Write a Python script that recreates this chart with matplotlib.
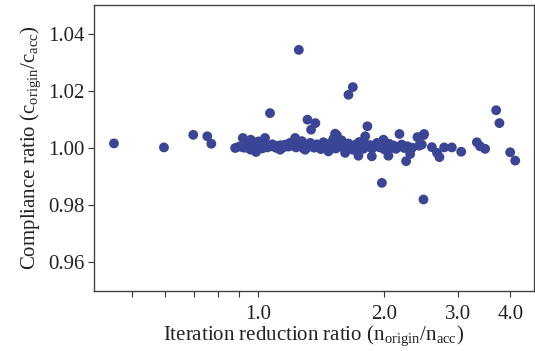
import numpy as np
import matplotlib
matplotlib.use("Agg")
import matplotlib.pyplot as plt
from matplotlib.ticker import FixedLocator, NullFormatter, FixedFormatter

plt.rcParams['font.family'] = ['Liberation Serif', 'DejaVu Serif']
plt.rcParams['mathtext.fontset'] = 'custom'
plt.rcParams['mathtext.rm'] = 'Liberation Serif'

# iteration reduction ratio (n_origin / n_acc)
ratio_iter = [
    0.452, 0.595, 0.699, 0.755, 0.772, 1.249, 1.066, 1.31, 1.368, 1.336,
    1.641, 1.681, 1.821, 1.972, 2.479, 3.697, 3.764, 3.993, 4.105, 3.325,
    3.384, 3.479, 3.05, 2.897, 2.777, 2.706, 2.67, 2.596, 2.479, 2.456,
    2.42, 2.398, 2.488, 2.304, 2.253, 2.172, 1.799, 1.539, 1.525, 1.989,
    1.733, 1.866, 2.044, 1.47, 1.611, 1.293, 1.127, 0.88, 0.918, 0.918,
    0.959, 0.959, 0.987, 1.0, 1.037, 1.224,
    0.90, 0.93, 0.94, 0.95, 0.97, 0.98, 0.99, 1.01, 1.02, 1.04,
    1.05, 1.07, 1.08, 1.10, 1.11, 1.13, 1.15, 1.16, 1.18, 1.19,
    1.21, 1.23, 1.24, 1.26, 1.27, 1.28, 1.30, 1.32, 1.33, 1.35,
    1.36, 1.38, 1.40, 1.41, 1.43, 1.44, 1.46, 1.48, 1.50, 1.51,
    1.53, 1.55, 1.57, 1.58, 1.60, 1.62, 1.64, 1.66, 1.68, 1.70,
    1.72, 1.74, 1.76, 1.78, 1.80, 1.83, 1.85, 1.87, 1.90, 1.92,
    1.95, 1.97, 2.00, 2.02, 2.05, 2.08, 2.10, 2.13, 2.16, 2.20,
    2.23, 2.27, 2.33,
]
# compliance ratio (c_origin / c_acc)
ratio_comp = [
    1.0016, 1.0002, 1.0046, 1.0041, 1.0015, 1.0343, 1.0122, 1.0099, 1.0087, 1.0064,
    1.0186, 1.0213, 1.0076, 0.9878, 0.9820, 1.0132, 1.0087, 0.9985, 0.9956, 1.0020,
    1.0006, 0.9997, 0.9987, 1.0002, 1.0002, 0.9968, 0.9983, 1.0003, 1.0045, 1.0012,
    1.0008, 1.0038, 1.0049, 0.9979, 0.9954, 1.0049, 1.0041, 1.0045, 1.0050, 1.0029,
    0.9973, 0.9971, 0.9973, 0.9988, 0.9983, 0.9994, 0.9994, 1.0000, 1.0035, 1.0002,
    1.0029, 0.9994, 0.9986, 1.0023, 1.0035, 1.0035,
    1.0005, 1.0001, 1.0010, 1.0003, 1.0008, 1.0000, 1.0012, 1.0004, 0.9998, 1.0009,
    1.0002, 1.0006, 1.0013, 1.0001, 1.0007, 1.0010, 1.0003, 1.0012, 1.0005, 1.0018,
    1.0008, 1.0002, 1.0014, 1.0006, 1.0024, 0.9999, 1.0011, 1.0004, 1.0018, 1.0008,
    1.0001, 1.0013, 1.0005, 0.9996, 1.0020, 1.0009, 1.0002, 1.0015, 1.0006, 1.0032,
    0.9998, 1.0012, 1.0004, 1.0027, 1.0009, 1.0001, 1.0016, 1.0005, 0.9994, 1.0011,
    1.0003, 1.0021, 1.0007, 0.9997, 1.0014, 1.0004, 1.0010, 0.9998, 1.0008, 1.0018,
    1.0002, 1.0011, 0.9995, 1.0006, 1.0015, 1.0001, 1.0009, 0.9997, 1.0004, 1.0012,
    1.0000, 1.0006, 1.0001,
]

x_major = [1.0, 2.0, 3.0, 4.0]
x_major_labels = ["1.0", "2.0", "3.0", "4.0"]
x_minor = [0.5, 0.6, 0.7, 0.8, 0.9]
y_ticks = [0.96, 0.98, 1.00, 1.02, 1.04]

fig = plt.figure(figsize=(5.35, 3.51), dpi=100)
ax = fig.add_axes([0.1757, 0.1709, 0.8223, 0.8149])

ax.scatter(ratio_iter, ratio_comp, s=50, color="#3a4595", edgecolors="none", zorder=3)

ax.set_xscale("log")
ax.set_xlim(0.405, 4.55)
ax.set_ylim(0.95, 1.05)

ax.xaxis.set_major_locator(FixedLocator(x_major))
ax.xaxis.set_major_formatter(FixedFormatter(x_major_labels))
ax.xaxis.set_minor_locator(FixedLocator(x_minor))
ax.xaxis.set_minor_formatter(NullFormatter())
ax.set_yticks(y_ticks)
ax.set_yticklabels(["%.2f" % v for v in y_ticks])

ax.tick_params(axis="both", which="major", direction="out", length=4, width=0.8,
               labelsize=15, colors="#333333", labelcolor="#222222", pad=3)
ax.tick_params(axis="x", which="minor", direction="out", length=4, width=0.8, colors="#333333")
ax.tick_params(axis="x", which="major", pad=6)

for sp in ax.spines.values():
    sp.set_color("#444444")
    sp.set_linewidth(1.0)

ax.set_xlabel(r"Iteration reduction ratio (n$_{\mathrm{origin}}$/n$_{\mathrm{acc}}$)",
              fontsize=15, color="#222222", labelpad=0)
ax.set_ylabel(r"Compliance ratio (c$_{\mathrm{origin}}$/c$_{\mathrm{acc}}$)",
              fontsize=15, color="#222222", labelpad=3)

fig.savefig("out.png", dpi=100)
